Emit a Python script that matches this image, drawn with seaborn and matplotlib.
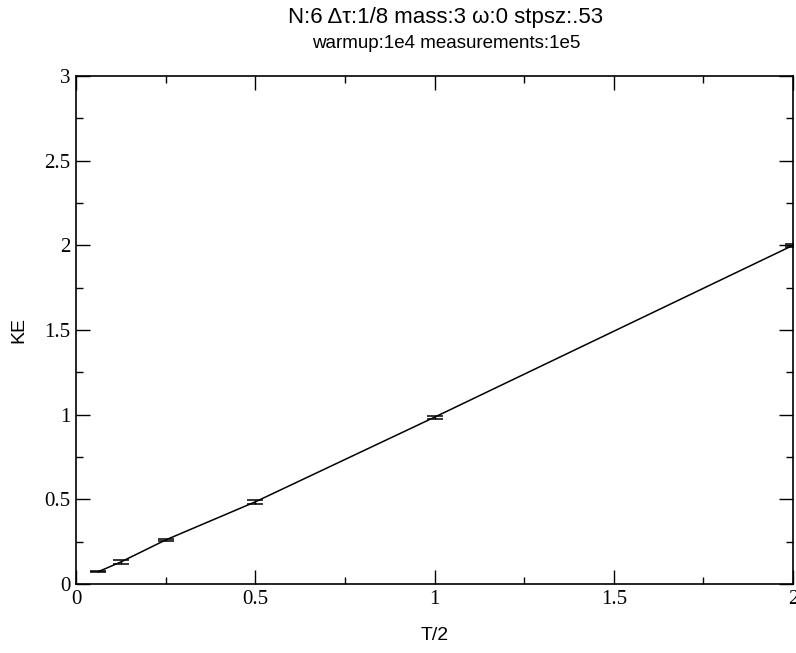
import matplotlib
matplotlib.use("Agg")
import matplotlib.pyplot as plt
import seaborn as sns
import numpy as np
import pandas as pd
from matplotlib.ticker import MultipleLocator, FixedFormatter, FixedLocator

sns.set_theme(style="white")
plt.rcParams['font.family'] = ['Liberation Sans', 'DejaVu Sans']

# data
T_half = [0.0625, 0.125, 0.25, 0.5, 1.0, 2.0]
KE = [0.073, 0.13, 0.26, 0.485, 0.985, 2.0]
KE_err = [0.004, 0.01, 0.007, 0.01, 0.01, 0.01]
x_ticks = [0, 0.5, 1, 1.5, 2]
x_tick_labels = ["0", "0.5", "1", "1.5", "2"]
y_ticks = [0, 0.5, 1, 1.5, 2, 2.5, 3]
y_tick_labels = ["0", "0.5", "1", "1.5", "2", "2.5", "3"]

df = pd.DataFrame({"T/2": T_half, "KE": KE, "err": KE_err})

fig = plt.figure(figsize=(7.96, 6.53), dpi=100)
ax = fig.add_axes([76/796, 69/653, (793-76)/796, (584-76)/653])

sns.lineplot(data=df, x="T/2", y="KE", ax=ax, color="black", linewidth=1.1, legend=False)
ax.errorbar(df["T/2"], df["KE"], yerr=df["err"], fmt="none", ecolor="black",
            elinewidth=1.0, capsize=5.5, capthick=1.1)

ax.set_xlim(0, 2)
ax.set_ylim(0, 3)
ax.xaxis.set_major_locator(FixedLocator(x_ticks))
ax.xaxis.set_major_formatter(FixedFormatter(x_tick_labels))
ax.yaxis.set_major_locator(FixedLocator(y_ticks))
ax.yaxis.set_major_formatter(FixedFormatter(y_tick_labels))
ax.xaxis.set_minor_locator(MultipleLocator(0.25))
ax.yaxis.set_minor_locator(MultipleLocator(0.25))
ax.tick_params(which="both", direction="in", top=True, right=True, bottom=True, left=True,
               color="black", width=1.0)
ax.tick_params(which="major", length=10, labelsize=15, pad=4)
ax.tick_params(which="minor", length=5)
for lab in ax.get_xticklabels() + ax.get_yticklabels():
    lab.set_family(["Liberation Serif", "DejaVu Serif"])
    lab.set_color("black")
for s in ax.spines.values():
    s.set_color("black")
    s.set_linewidth(1.2)

ax.set_xlabel("T/2", fontsize=14, color="black", labelpad=13)
ax.set_ylabel("KE", fontsize=14, color="black", labelpad=12)

fig.text(446/796, 1 - 17/653, "N:6 Δτ:1/8 mass:3 ω:0 stpsz:.53", ha="center", va="center",
         fontsize=16, color="black")
fig.text(446/796, 1 - 43/653, "warmup:1e4 measurements:1e5", ha="center", va="center",
         fontsize=13.5, color="black")

fig.savefig("out.png", dpi=100)
